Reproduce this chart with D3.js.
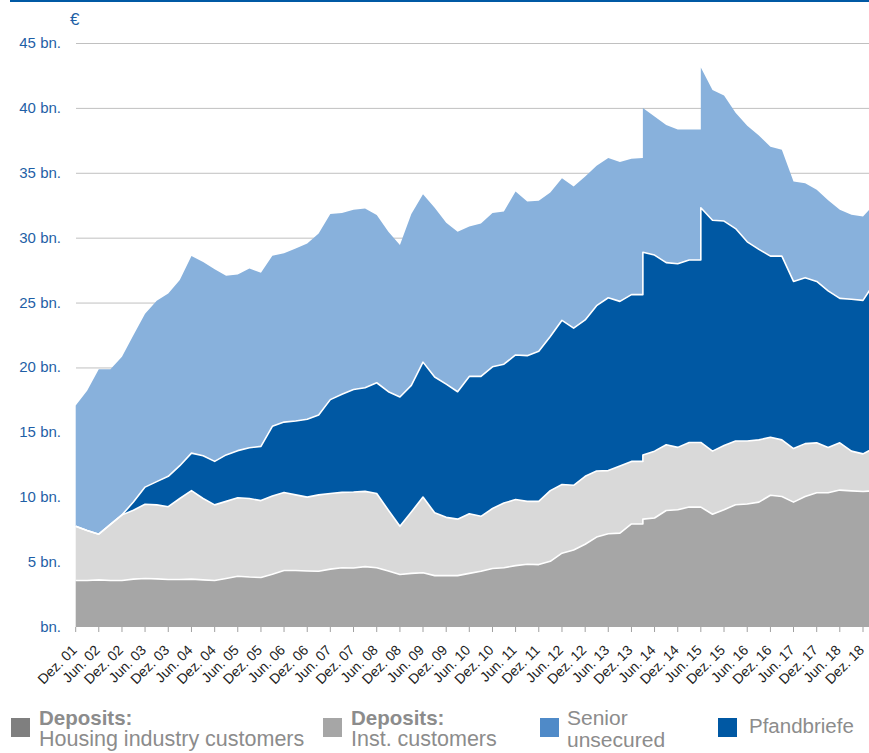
<!DOCTYPE html>
<html>
<head>
<meta charset="utf-8">
<script src="https://cdn.jsdelivr.net/npm/d3@7"></script>
<style>
body { margin: 0; background: #fff; }
svg { display: block; font-family: "Liberation Sans", Arial, sans-serif; }
</style>
</head>
<body>
<svg id="chart" width="869" height="753"></svg>
<script>
// quarterly reporting dates (2014-03 and 2015-06 appear twice: break in the series)
const periods = [
	"2001-12", "2002-03", "2002-06", "2002-09", "2002-12", "2003-03", "2003-06", "2003-09",
	"2003-12", "2004-03", "2004-06", "2004-09", "2004-12", "2005-03", "2005-06", "2005-09",
	"2005-12", "2006-03", "2006-06", "2006-09", "2006-12", "2007-03", "2007-06", "2007-09",
	"2007-12", "2008-03", "2008-06", "2008-09", "2008-12", "2009-03", "2009-06", "2009-09",
	"2009-12", "2010-03", "2010-06", "2010-09", "2010-12", "2011-03", "2011-06", "2011-09",
	"2011-12", "2012-03", "2012-06", "2012-09", "2012-12", "2013-03", "2013-06", "2013-09",
	"2013-12", "2014-03", "2014-03", "2014-06", "2014-09", "2014-12", "2015-03", "2015-06",
	"2015-06", "2015-09", "2015-12", "2016-03", "2016-06", "2016-09", "2016-12", "2017-03",
	"2017-06", "2017-09", "2017-12", "2018-03", "2018-06", "2018-09", "2018-12", "2019-03"
];

// € bn.
const housing = [
	3.58, 3.58, 3.63, 3.58, 3.58, 3.69, 3.74, 3.71, 3.66, 3.66, 3.69, 3.63, 3.58, 3.74, 3.91, 3.85,
	3.82, 4.07, 4.35, 4.35, 4.32, 4.29, 4.46, 4.57, 4.55, 4.65, 4.57, 4.32, 4.04, 4.13, 4.18, 3.96,
	3.96, 3.96, 4.13, 4.29, 4.51, 4.57, 4.73, 4.84, 4.81, 5.06, 5.69, 5.94, 6.38, 6.93, 7.18, 7.23,
	7.94, 7.94, 8.31, 8.40, 8.98, 9.04, 9.24, 9.24, 9.24, 8.69, 9.04, 9.42, 9.48, 9.62, 10.15, 10.06,
	9.62, 10.06, 10.35, 10.35, 10.55, 10.49, 10.44, 10.50
];
const institutional = [
	4.18, 3.85, 3.52, 4.32, 5.06, 5.31, 5.72, 5.70, 5.61, 6.24, 6.82, 6.27, 5.83, 5.94, 6.05, 6.05,
	5.92, 6.03, 6.02, 5.83, 5.69, 5.89, 5.83, 5.80, 5.85, 5.80, 5.72, 4.68, 3.72, 4.73, 5.83, 4.84,
	4.49, 4.35, 4.59, 4.24, 4.62, 4.98, 5.09, 4.84, 4.87, 5.45, 5.29, 4.98, 5.23, 5.09, 4.87, 5.17,
	4.82, 4.82, 4.95, 5.15, 5.06, 4.80, 4.98, 4.98, 4.98, 4.86, 4.94, 4.91, 4.85, 4.80, 4.47, 4.36,
	4.13, 4.07, 3.84, 3.49, 3.64, 3.06, 2.90, 3.30
];
const pfandbriefe = [
	0, 0, 0, 0, 0, 0.63, 1.32, 1.79, 2.34, 2.53, 2.89, 3.30, 3.35, 3.58, 3.63, 3.91,
	4.18, 5.36, 5.42, 5.69, 6.00, 6.16, 7.23, 7.57, 7.90, 7.98, 8.53, 9.13, 9.96, 9.76, 10.40, 10.46,
	10.26, 9.82, 10.59, 10.78, 10.92, 10.70, 11.14, 11.23, 11.56, 11.88, 12.65, 12.11, 12.05, 12.74, 13.32, 12.69,
	12.85, 12.85, 15.61, 15.11, 14.04, 14.15, 14.06, 14.06, 18.08, 17.79, 17.30, 16.37, 15.35, 14.68, 13.96, 14.16,
	12.88, 12.79, 12.44, 12.06, 11.13, 11.71, 11.83, 12.70
];
const senior = [
	9.30, 10.78, 12.71, 11.96, 12.19, 12.85, 13.35, 13.94, 14.08, 14.31, 15.18, 14.92, 14.81, 13.81, 13.57, 13.81,
	13.37, 13.15, 13.01, 13.29, 13.54, 13.98, 14.31, 13.97, 13.85, 13.81, 12.93, 12.32, 11.72, 13.21, 12.93, 13.04,
	12.43, 12.32, 11.56, 11.78, 11.86, 11.77, 12.60, 11.88, 11.61, 11.09, 10.95, 10.92, 11.06, 10.78, 10.77, 10.74,
	10.47, 10.52, 11.13, 10.67, 10.61, 10.35, 10.06, 10.06, 10.81, 10.03, 9.68, 8.92, 8.95, 8.78, 8.42, 8.19,
	7.70, 7.27, 7.06, 6.98, 6.83, 6.51, 6.46, 6.10
];

const yTicks = [0, 5, 10, 15, 20, 25, 30, 35, 40, 45];
const keys = ["housing", "institutional", "pfandbriefe", "senior"];
const areaColors = { housing: "#a6a6a6", institutional: "#d9d9d9", pfandbriefe: "#0058a3", senior: "#88b1dc" };

const legendItems = [
	{ key: "housing", color: "#7f7f7f", bold: "Deposits:", lines: ["Housing industry customers"], x: 11 },
	{ key: "institutional", color: "#a6a6a6", bold: "Deposits:", lines: ["Inst. customers"], x: 323 },
	{ key: "senior", color: "#4f8ac8", bold: null, lines: ["Senior", "unsecured"], x: 540 },
	{ key: "pfandbriefe", color: "#0058a3", bold: null, lines: ["Pfandbriefe"], x: 718 }
];

const parse = d3.timeParse("%Y-%m");
const rows = periods.map((p, i) => ({
	date: parse(p),
	housing: housing[i],
	institutional: institutional[i],
	pfandbriefe: pfandbriefe[i],
	senior: senior[i]
}));

const svg = d3.select("#chart");
const width = 869;

const x = d3.scaleTime().domain([parse("2001-12"), parse("2018-12")]).range([75.7, 863]);
const y = d3.scaleLinear().domain([0, 45]).range([627, 43]);

// blue rule at the top
svg.append("rect").attr("x", 10).attr("y", 0).attr("width", width - 10).attr("height", 2).attr("fill", "#0059a4");

// gridlines
svg.append("g")
	.selectAll("line")
	.data(yTicks.filter((d) => d > 0))
	.join("line")
	.attr("x1", 76)
	.attr("x2", width)
	.attr("y1", (d) => y(d) + 0.5)
	.attr("y2", (d) => y(d) + 0.5)
	.attr("stroke", "#c0c0c0")
	.attr("stroke-width", 1);

// y labels
svg.append("g")
	.selectAll("text")
	.data(yTicks)
	.join("text")
	.attr("x", 61)
	.attr("y", (d) => y(d) + 5)
	.attr("text-anchor", "end")
	.attr("font-size", "15px")
	.attr("fill", "#1f5fa6")
	.text((d) => (d === 0 ? "bn." : d + " bn."));

svg.append("text").attr("x", 70).attr("y", 25).attr("font-size", "17px").attr("fill", "#1f5fa6").text("€");

const stacked = d3.stack().keys(keys)(rows);

const area = d3
	.area()
	.x((d) => x(d.data.date))
	.y0((d) => y(d[0]))
	.y1((d) => y(d[1]));

const topLine = d3
	.line()
	.x((d) => x(d.data.date))
	.y((d) => y(d[1]));

const plot = svg.append("g");

plot.selectAll("path.area")
	.data(stacked)
	.join("path")
	.attr("class", "area")
	.attr("d", area)
	.attr("fill", (d) => areaColors[d.key]);

// white separators between the layers
plot.selectAll("path.sep")
	.data(stacked.slice(0, 3))
	.join("path")
	.attr("class", "sep")
	.attr("d", topLine)
	.attr("fill", "none")
	.attr("stroke", "#fff")
	.attr("stroke-width", 1.6)
	.attr("stroke-linejoin", "round");

// x axis ticks and labels
const tickDates = Array.from(new Set(periods.filter((p) => /-(06|12)$/.test(p))))
	.map(parse)
	.filter((d) => d <= parse("2018-12"));

const fmt = (d) => (d.getMonth() === 11 ? "Dez. " : "Jun. ") + d3.timeFormat("%y")(d);

const xAxis = svg.append("g");
xAxis.selectAll("line")
	.data(tickDates)
	.join("line")
	.attr("x1", (d) => x(d))
	.attr("x2", (d) => x(d))
	.attr("y1", 627)
	.attr("y2", 632)
	.attr("stroke", "#a0a0a0")
	.attr("stroke-width", 1);

xAxis.selectAll("text")
	.data(tickDates)
	.join("text")
	.attr("transform", (d) => `translate(${x(d) + 2},${651}) rotate(-45)`)
	.attr("text-anchor", "end")
	.attr("font-size", "14px")
	.attr("fill", "#222")
	.text(fmt);

// legend
const legend = svg.append("g");
legendItems.forEach((item) => {
	const g = legend.append("g");
	g.append("rect")
		.attr("x", item.x)
		.attr("y", 718)
		.attr("width", 19)
		.attr("height", 19)
		.attr("fill", item.color);
	const tx = item.x + 28;
	if (item.bold) {
		g.append("text").attr("x", tx).attr("y", 725).attr("font-size", "20.5px").attr("font-weight", "bold").attr("fill", "#8c8c8c").text(item.bold);
		g.append("text").attr("x", tx).attr("y", 746).attr("font-size", "21.5px").attr("fill", "#8c8c8c").text(item.lines[0]);
	} else if (item.lines.length === 2) {
		g.append("text").attr("x", tx - 1).attr("y", 725).attr("font-size", "21px").attr("fill", "#8c8c8c").text(item.lines[0]);
		g.append("text").attr("x", tx - 1).attr("y", 747).attr("font-size", "21px").attr("fill", "#8c8c8c").text(item.lines[1]);
	} else {
		g.append("text").attr("x", tx + 3).attr("y", 733).attr("font-size", "20.5px").attr("fill", "#8c8c8c").text(item.lines[0]);
	}
});
</script>
</body>
</html>
